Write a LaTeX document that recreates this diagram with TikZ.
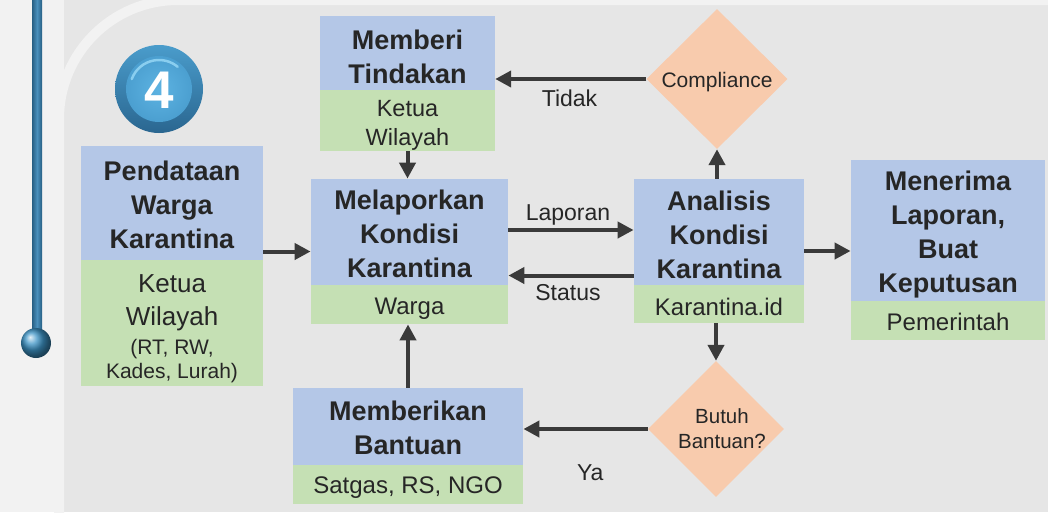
\documentclass[tikz,border=0pt]{standalone}
\usepackage{fontspec}
\setmainfont{Liberation Sans}
\usetikzlibrary{arrows.meta,shapes.geometric,fit}
\definecolor{bgout}{HTML}{F2F2F2}
\definecolor{panel}{HTML}{E6E6E6}
\definecolor{hblue}{HTML}{B4C7E7}
\definecolor{hgreen}{HTML}{C5E0B4}
\definecolor{dorange}{HTML}{F8CBAD}
\definecolor{txt}{HTML}{262626}
\definecolor{arrc}{HTML}{3A3A3A}
\definecolor{bardark}{HTML}{275F84}
\definecolor{barlight}{HTML}{4A90BC}
\definecolor{ringtop}{HTML}{4A9CCB}
\definecolor{ringbot}{HTML}{2A6690}
\definecolor{discin}{HTML}{5DB3E2}
\definecolor{discout}{HTML}{4B9FD0}
\definecolor{knob}{HTML}{3D94C6}
\definecolor{shine}{HTML}{9ADAF7}
% top strut: raises the first line's height so the text block sits lower
\newcommand{\dn}[1]{\rule{0pt}{\dimexpr0.716em+#1\relax}}
\begin{document}
\begin{tikzpicture}[x=1pt,y=-1pt,
  hdr/.style={fill=hblue, text=txt, align=center, inner sep=0pt, font=\bfseries\fontsize{27}{34}\selectfont},
  sub/.style={fill=hgreen, text=txt, align=center, inner sep=0pt, font=\fontsize{24}{29}\selectfont},
  dec/.style={diamond, fill=dorange, text=txt, align=center, inner sep=0pt, font=\fontsize{21}{25}\selectfont},
  lbl/.style={text=txt, font=\fontsize{23}{27}\selectfont, inner sep=0pt, anchor=base},
  arr/.style={draw=arrc, line width=4pt, -{Triangle[length=16pt,width=16pt]}},
  grp/.style={inner sep=0pt, draw=none, fill=none}]
\useasboundingbox (0,0) rectangle (1048,512);
\begin{scope}
  \clip (0,0) rectangle (1048,512);
  \fill[bgout] (0,0) rectangle (1048,512);
  \fill[panel] (64,0) rectangle (1048,512);
  \draw[bgout, line width=10pt, rounded corners=119pt] (59,580) -- (59,0) -- (1120,0);
\end{scope}
% vertical bar with knob
\shade[left color=bardark, right color=bardark, middle color=barlight] (32,0) rectangle (42,335);
\shade[ball color=knob] (36,343) circle (15pt);
% number badge
\shade[top color=ringtop, bottom color=ringbot] (159,89) circle (44pt);
\shade[inner color=discin, outer color=discout] (159,89) circle (33pt);
\draw[shine, line width=2.5pt, line cap=round, opacity=0.8] (159,89) ++(160:29pt) arc[start angle=160, end angle=50, radius=29pt];
\node[text=white, font=\bfseries\fontsize{53}{60}\selectfont, inner sep=0pt] (num) at (159,90.5) {4};
% boxes
\node[hdr, minimum width=182pt, minimum height=114pt] (A1) at (172,203) {\dn{4pt}Pendataan\\Warga\\Karantina};
\node[sub, minimum width=182pt, minimum height=126pt, font=\fontsize{26}{33}\selectfont] (A2) at (172,323)
  {\dn{11pt}Ketua\\Wilayah\\[-4pt]\fontsize{21}{24}\selectfont (RT, RW,\\[-9pt]\fontsize{21}{24}\selectfont Kades, Lurah)};
\node[hdr, minimum width=175pt, minimum height=75pt] (B1) at (407.5,53.5) {\dn{6pt}Memberi\\Tindakan};
\node[sub, minimum width=175pt, minimum height=59pt, font=\fontsize{23.5}{29}\selectfont] (B2) at (407.5,120.5) {\dn{10pt}Ketua\\Wilayah};
\node[hdr, minimum width=197pt, minimum height=106pt] (C1) at (409.5,232) {\dn{4pt}Melaporkan\\Kondisi\\Karantina};
\node[sub, minimum width=197pt, minimum height=39pt] (C2) at (409.5,304.5) {\dn{8pt}Warga};
\node[hdr, minimum width=170pt, minimum height=106pt] (D1) at (719,232) {\dn{6pt}Analisis\\Kondisi\\Karantina};
\node[sub, minimum width=170pt, minimum height=38pt] (D2) at (719,304) {\dn{7pt}Karantina.id};
\node[hdr, minimum width=194pt, minimum height=141pt] (E1) at (948,230.5) {\dn{9pt}Menerima\\Laporan,\\Buat\\Keputusan};
\node[sub, minimum width=194pt, minimum height=39pt] (E2) at (948,320.5) {\dn{4pt}Pemerintah};
\node[hdr, minimum width=230pt, minimum height=77pt] (F1) at (408,426.5) {\dn{2pt}Memberikan\\Bantuan};
\node[sub, minimum width=230pt, minimum height=39pt] (F2) at (408,484.5) {\dn{6pt}Satgas, RS, NGO};
\node[grp, fit=(A1)(A2)] (A) {};
\node[grp, fit=(B1)(B2)] (B) {};
\node[grp, fit=(C1)(C2)] (C) {};
\node[grp, fit=(D1)(D2)] (D) {};
\node[grp, fit=(E1)(E2)] (E) {};
\node[grp, fit=(F1)(F2)] (F) {};
% decisions
\node[dec, minimum width=141pt, minimum height=140pt] (comp) at (717,79) {\dn{6pt}Compliance};
\node[dec, minimum width=136pt, minimum height=136pt, inner xsep=-6pt, font=\fontsize{20.5}{25}\selectfont] (butuh) at (716,429)
  {\hspace*{12pt}Butuh\\\hspace*{12pt}Bantuan?};
% connectors
\draw[arr] (A.east |- C.west) -- (C.west);
\draw[arr] (B2.south) -- (B2.south |- C.north);
\draw[arr] ([yshift=21.5pt]C.east) -- ([yshift=21.5pt]C.east -| D.west);
\draw[arr] ([yshift=-24.5pt]D.west) -- ([yshift=-24.5pt]D.west -| C.east);
\draw[arr] (comp.south |- D.north) -- (comp.south);
\draw[arr] (comp.west) -- (comp.west -| B1.east);
\draw[arr] (D.east) -- (D.east -| E.west);
\draw[arr] (butuh.north |- D.south) -- (butuh.north);
\draw[arr] (butuh.west) -- (butuh.west -| F.east);
\draw[arr] (F.north) -- (F.north |- C.south);
% labels
\node[lbl] (tidak) at (569.5,106) {Tidak};
\node[lbl] (laporan) at (568,220.7) {Laporan};
\node[lbl] (status) at (568,300.7) {Status};
\node[lbl] (ya) at (590.3,480.7) {Ya};
\end{tikzpicture}
\end{document}
